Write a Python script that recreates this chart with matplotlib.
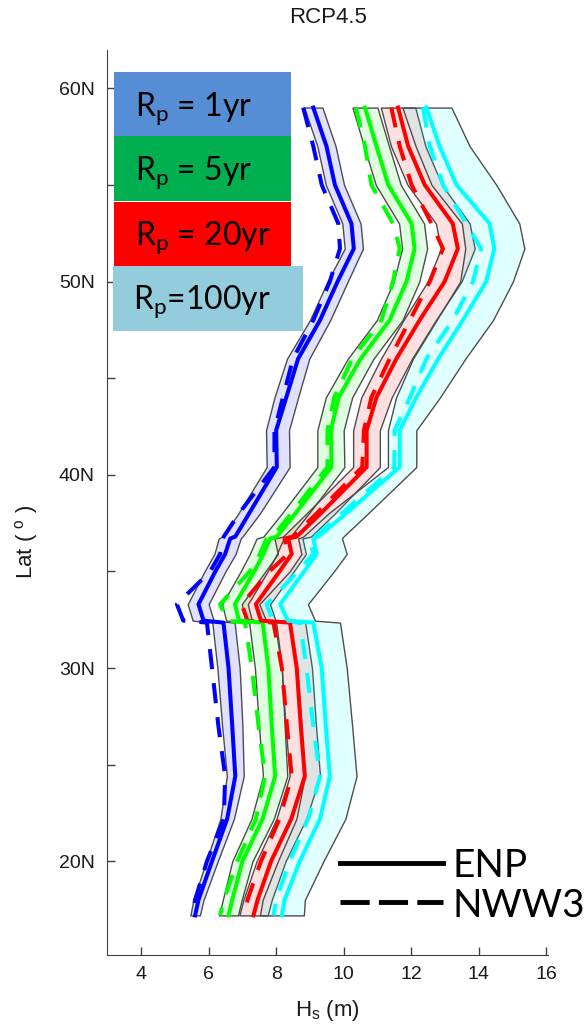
import matplotlib
matplotlib.use('Agg')

import matplotlib.pyplot as plt
from matplotlib.colors import to_rgba
from matplotlib.patches import Rectangle
from matplotlib.lines import Line2D

plt.rcParams['font.family'] = 'Liberation Sans'
plt.rcParams['mathtext.default'] = 'regular'

# latitudes (deg N) where the profiles are sampled
lats = [59.0, 57.0, 55.0, 53.0, 51.7, 50.0, 48.0, 46.0, 44.0, 42.3, 40.4, 38.0, 36.8,
        36.7, 35.9, 35.0, 33.3, 32.45, 32.35, 30.0, 27.0, 24.4, 22.2, 20.0, 18.0, 17.2]

# Rp = 1yr
enp_1 = [9.10, 9.49, 9.74, 10.23, 10.30, 9.82, 9.30, 8.65, 8.30, 8.00, 8.02, 7.20, 6.79,
         6.64, 6.49, 6.20, 5.70, 5.85, 6.44, 6.59, 6.70, 6.79, 6.55, 6.10, 5.70, 5.60]
nww3_1 = [8.80, 9.10, 9.35, 9.84, 9.89, 9.59, 9.10, 8.50, 8.20, 7.95, 7.95, 6.90, 6.45,
          6.42, 6.34, 6.05, 5.06, 5.25, 5.95, 6.10, 6.29, 6.49, 6.45, 5.95, 5.60, 5.51]
lo_1 = [8.83, 9.22, 9.47, 9.96, 10.03, 9.52, 9.00, 8.32, 7.95, 7.70, 7.72, 6.88, 6.42,
        6.30, 6.17, 5.88, 5.38, 5.53, 6.11, 6.26, 6.40, 6.54, 6.35, 5.93, 5.55, 5.46]
hi_1 = [9.37, 9.76, 10.01, 10.50, 10.57, 10.12, 9.60, 8.98, 8.65, 8.38, 8.40, 7.52, 7.00,
        6.95, 6.80, 6.50, 6.00, 6.15, 6.77, 6.92, 7.00, 7.04, 6.75, 6.27, 5.85, 5.74]

# Rp = 5yr
enp_5 = [10.63, 10.97, 11.32, 12.01, 12.10, 11.86, 11.36, 10.50, 9.85, 9.62, 9.64, 8.57, 8.02,
         7.82, 7.62, 7.35, 6.78, 6.90, 7.60, 7.77, 7.87, 7.97, 7.60, 7.00, 6.70, 6.59]
nww3_5 = [10.36, 10.63, 10.82, 11.46, 11.66, 11.46, 11.12, 10.25, 9.72, 9.52, 9.52, 8.45, 7.90,
          7.72, 7.52, 7.22, 6.34, 6.55, 7.08, 7.28, 7.48, 7.67, 7.40, 6.85, 6.45, 6.34]
lo_5 = [10.26, 10.60, 10.95, 11.64, 11.73, 11.48, 10.98, 10.12, 9.47, 9.22, 9.22, 8.17, 7.62,
        7.42, 7.22, 6.95, 6.40, 6.52, 7.20, 7.37, 7.49, 7.61, 7.27, 6.70, 6.42, 6.31]
hi_5 = [11.00, 11.34, 11.69, 12.38, 12.47, 12.24, 11.74, 10.88, 10.25, 10.00, 10.02, 8.97, 8.42,
        8.22, 8.02, 7.75, 7.16, 7.28, 8.00, 8.17, 8.25, 8.33, 7.93, 7.30, 6.98, 6.87]

# Rp = 20yr
enp_20 = [11.61, 11.91, 12.40, 13.23, 13.38, 12.99, 12.25, 11.56, 10.97, 10.68, 10.68, 9.32, 8.61,
          8.36, 8.46, 8.10, 7.40, 7.55, 8.41, 8.61, 8.73, 8.85, 8.45, 7.85, 7.45, 7.33]
nww3_20 = [11.41, 11.66, 12.01, 12.60, 12.94, 12.55, 11.96, 11.36, 10.82, 10.60, 10.55, 9.20, 8.50,
           8.25, 8.35, 7.80, 6.98, 7.15, 7.92, 8.17, 8.32, 8.46, 8.10, 7.55, 7.15, 7.08]
lo_20 = [11.10, 11.40, 11.89, 12.73, 12.88, 12.49, 11.77, 11.10, 10.52, 10.28, 10.28, 8.90, 8.20,
         7.95, 8.05, 7.68, 6.98, 7.12, 7.96, 8.16, 8.28, 8.40, 8.01, 7.42, 7.03, 6.91]
hi_20 = [12.12, 12.42, 12.91, 13.73, 13.88, 13.49, 12.73, 12.02, 11.42, 11.07, 11.07, 9.74, 9.03,
         8.78, 8.88, 8.52, 7.82, 7.98, 8.86, 9.06, 9.18, 9.30, 8.89, 8.28, 7.87, 7.75]

# Rp = 100yr
enp_100 = [12.45, 12.84, 13.34, 14.32, 14.46, 14.22, 13.53, 12.80, 12.15, 11.66, 11.66, 10.07, 9.25,
           9.10, 9.20, 8.83, 8.12, 8.35, 9.10, 9.35, 9.47, 9.59, 9.30, 8.70, 8.25, 8.17]
nww3_100 = [12.35, 12.55, 12.94, 13.63, 14.07, 13.83, 13.23, 12.45, 11.96, 11.51, 11.50, 9.95, 9.15,
            9.00, 9.10, 8.65, 7.72, 7.90, 8.71, 8.90, 9.10, 9.30, 8.95, 8.40, 8.00, 7.92]
lo_100 = [11.74, 12.13, 12.60, 13.50, 13.60, 13.45, 12.75, 12.05, 11.55, 11.31, 11.31, 9.55, 8.80,
          8.65, 8.75, 8.40, 7.50, 7.70, 8.40, 8.62, 8.75, 8.85, 8.60, 8.05, 7.60, 7.52]
hi_100 = [13.19, 13.73, 14.52, 15.20, 15.35, 15.01, 14.42, 13.60, 12.85, 12.15, 12.15, 10.72, 9.99,
          9.95, 10.09, 9.71, 8.94, 9.15, 9.89, 10.09, 10.25, 10.38, 10.05, 9.40, 8.85, 8.82]

series = [
    (enp_1, nww3_1, lo_1, hi_1, '#0000ff'),
    (enp_5, nww3_5, lo_5, hi_5, '#00ff00'),
    (enp_20, nww3_20, lo_20, hi_20, '#ff0000'),
    (enp_100, nww3_100, lo_100, hi_100, '#00ffff'),
]

box_labels = ['R$_{p}$ = 1yr', 'R$_{p}$ = 5yr', 'R$_{p}$ = 20yr', 'R$_{p}$=100yr']
box_colors = ['#558ed5', '#00b050', '#ff0000', '#93cddd']

W, H = 588, 1034
fig = plt.figure(figsize=(W / 100, H / 100), dpi=100)
ax = fig.add_axes([107.3 / W, 79 / H, 440.7 / W, 905.4 / H])

# bands first, then NWW3 dashed, then ENP solid
for enp, nww3, lo, hi, c in series:
    ax.fill_betweenx(lats, lo, hi, facecolor=to_rgba(c, 0.12),
                     edgecolor='#4d4d4d', linewidth=1.0, zorder=1)
for enp, nww3, lo, hi, c in series:
    ln, = ax.plot(nww3, lats, color=c, linewidth=2.9, zorder=2)
    ln.set_dashes((5, 3.5))
for enp, nww3, lo, hi, c in series:
    ax.plot(enp, lats, color=c, linewidth=2.9, zorder=3)

ax.set_xlim(3, 16.05)
ax.set_ylim(15.15, 62)
ax.set_xticks(range(4, 17, 2))
ax.set_yticks(range(20, 61, 5))
ax.set_yticklabels(['20N', '', '30N', '', '40N', '', '50N', '', '60N'])
ax.tick_params(direction='in', length=6, width=1, colors='#404040',
               labelcolor='#1a1a1a', labelsize=14)
ax.tick_params(axis='x', pad=8)
ax.tick_params(axis='y', pad=9)
for s in ['top', 'right']:
    ax.spines[s].set_visible(False)
for s in ['left', 'bottom']:
    ax.spines[s].set_color('#404040')

ax.set_title('RCP4.5', fontsize=16, color='#1a1a1a', pad=19)
ax.set_xlabel('H$_{s}$ (m)', fontsize=16, color='#1a1a1a')
ax.xaxis.set_label_coords(0.5, -0.048)
ax.set_ylabel('Lat ( $^{o}$ )', fontsize=16, color='#1a1a1a')
ax.yaxis.set_label_coords(-0.152, 0.456)

# coloured return-period boxes
boxes_px = [(114, 72, 177, 64), (114, 136, 177, 65), (114, 202, 177, 64), (113, 266, 190, 65)]
text_base = [116, 180, 245, 309]
text_x = [135, 135, 135, 133]
for (bx, by, bw, bh), col, lab, tb, tx in zip(boxes_px, box_colors, box_labels, text_base, text_x):
    fig.patches.append(Rectangle((bx / W, 1 - (by + bh) / H), bw / W, bh / H,
                                 transform=fig.transFigure, facecolor=col,
                                 edgecolor='none', zorder=5))
    fig.text(tx / W, 1 - tb / H, lab, fontsize=23, family='Lato', color='black',
             ha='left', va='baseline', zorder=6)

# ENP / NWW3 key
fig.add_artist(Line2D([340 / W, 443 / W], [1 - 863 / H] * 2, color='black',
                      linewidth=3.5, transform=fig.transFigure))
dl = Line2D([340 / W, 443 / W], [1 - 902 / H] * 2, color='black',
            linewidth=3.5, transform=fig.transFigure)
dl.set_dashes((6, 1.9))
fig.add_artist(dl)
fig.text(452 / W, 1 - 877 / H, 'ENP', fontsize=28, family='Lato', ha='left', va='baseline')
fig.text(452 / W, 1 - 917 / H, 'NWW3', fontsize=28, family='Lato', ha='left', va='baseline')

fig.savefig('out.png', dpi=100)
plt.close(fig)
